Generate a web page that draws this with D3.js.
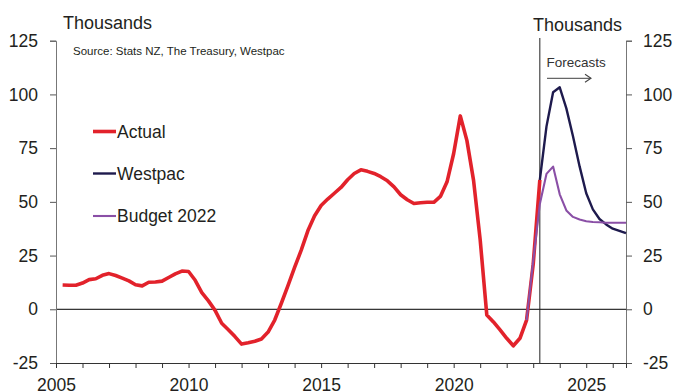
<!DOCTYPE html>
<html>
<head>
<meta charset="utf-8">
<script src="https://cdn.jsdelivr.net/npm/d3@7"></script>
<style>
  html, body { margin: 0; padding: 0; background: #fff; }
  svg { display: block; font-family: "Liberation Sans", Arial, sans-serif; }
</style>
</head>
<body>
<svg id="chart" width="673" height="392"></svg>
<script>
// ---- Data (thousands, quarterly) ----
const actualStart = 2005.25;
const actualValues = [
  11.3, 11.2, 11.2, 12.2, 13.8, 14.2, 15.8, 16.6, 15.7, 14.5, 13.2, 11.4,
  10.9, 12.6, 12.7, 13.1, 14.8, 16.5, 17.8, 17.6, 13.5, 7.8, 3.9, -0.5,
  -6.5, -9.5, -12.7, -16.2, -15.6, -14.9, -13.8, -10.6, -5.0, 2.8, 11.0, 19.5,
  27.5, 36.5, 43.4, 48.3, 51.3, 54.0, 56.7, 60.3, 63.2, 64.9, 64.2, 63.2,
  61.7, 59.8, 57.0, 53.3, 51.0, 49.2, 49.6, 49.8, 49.8, 52.5, 59.3, 72.5,
  90.0, 78.5, 60.0, 32.3, -2.7, -5.9, -9.6, -13.5, -17.0, -13.5, -5.0, 21.0,
  60.2
];
const westpacStart = 2023.25;
const westpacValues = [60.2, 85, 101, 103.3, 93.5, 80.5, 66.5, 54, 46.5, 42, 39.5, 37.5, 36.5, 35.4];
const budgetStart = 2022.75;
const budgetValues = [-5, 22.5, 49, 63, 66.4, 53.5, 46, 43, 41.8, 41, 40.6, 40.5, 40.3, 40.3, 40.3, 40.3];

const yTicks = [-25, 0, 25, 50, 75, 100, 125];
const xLabelYears = [2005, 2010, 2015, 2020, 2025];
const xMinorYears = d3.range(2005, 2027);
const forecastStart = 2023.25;
const seriesNames = ["Actual", "Westpac", "Budget 2022"];
const seriesColors = ["#e2222b", "#1e1a4d", "#8a4fa6"];
const seriesWidths = [3.6, 2.4, 2.1];

// ---- Layout ----
const svg = d3.select("#chart");
const mLeft = 56, mRight = 626, mTop = 40.7, mBottom = 363;
const x = d3.scaleLinear().domain([2005, 2026.5]).range([mLeft, mRight]);
const y = d3.scaleLinear().domain([-25, 125]).range([mBottom, mTop]);
const textColor = "#231f20";
const fontSize = 17.5;
const fmt = d => String(d);

const toPts = (start, vals) => vals.map((v, i) => ({ t: start + 0.25 * i, v }));
const line = d3.line().x(d => x(d.t)).y(d => y(d.v));

// zero line
svg.append("line").attr("x1", mLeft).attr("x2", mRight)
  .attr("y1", y(0)).attr("y2", y(0)).attr("stroke", "#000").attr("stroke-width", 1);

// forecast divider
svg.append("line").attr("x1", x(forecastStart)).attr("x2", x(forecastStart))
  .attr("y1", 38).attr("y2", mBottom).attr("stroke", "#222").attr("stroke-width", 1);

// Left axis
const gL = svg.append("g").attr("transform", `translate(${mLeft},0)`)
  .call(d3.axisLeft(y).tickValues(yTicks).tickSize(6).tickPadding(12).tickFormat(fmt));
gL.select(".domain").attr("stroke", "#777");
gL.selectAll(".tick line").attr("stroke", "#555");
gL.selectAll("text").attr("fill", textColor).style("font-size", fontSize + "px").attr("font-family", null);

// Right axis
const gR = svg.append("g").attr("transform", `translate(${mRight},0)`)
  .call(d3.axisRight(y).tickValues(yTicks).tickSize(6).tickPadding(11).tickFormat(fmt));
gR.select(".domain").attr("stroke", "#777");
gR.selectAll(".tick line").attr("stroke", "#555");
gR.selectAll("text").attr("fill", textColor).style("font-size", fontSize + "px").attr("font-family", null);

// Bottom axis
const gB = svg.append("g").attr("transform", `translate(0,${mBottom})`)
  .call(d3.axisBottom(x).tickValues(xMinorYears).tickSize(5).tickPadding(11)
    .tickFormat(d => xLabelYears.includes(d) ? String(d) : ""));
gB.select(".domain").attr("stroke", "#333");
gB.selectAll(".tick line").attr("stroke", "#333");
gB.selectAll("text").attr("fill", textColor).style("font-size", fontSize + "px").attr("font-family", null);

// Series
svg.append("path").datum(toPts(actualStart, actualValues))
  .attr("d", line).attr("fill", "none").attr("stroke", seriesColors[0])
  .attr("stroke-width", seriesWidths[0]).attr("stroke-linejoin", "round");
svg.append("path").datum(toPts(westpacStart, westpacValues))
  .attr("d", line).attr("fill", "none").attr("stroke", seriesColors[1])
  .attr("stroke-width", seriesWidths[1]).attr("stroke-linejoin", "round");
svg.append("path").datum(toPts(budgetStart, budgetValues))
  .attr("d", line).attr("fill", "none").attr("stroke", seriesColors[2])
  .attr("stroke-width", seriesWidths[2]).attr("stroke-linejoin", "round");

// Titles
svg.append("text").attr("x", 63).attr("y", 28.5).attr("fill", textColor)
  .style("font-size", "18px").text("Thousands");
svg.append("text").attr("x", 622).attr("y", 30.5).attr("text-anchor", "end").attr("fill", textColor)
  .style("font-size", "18px").text("Thousands");
svg.append("text").attr("x", 73).attr("y", 55).attr("fill", textColor)
  .style("font-size", "11.5px").text("Source: Stats NZ, The Treasury, Westpac");

// Forecasts label + arrow
svg.append("text").attr("x", 546.5).attr("y", 66.5).attr("fill", "#333")
  .style("font-size", "13.5px").text("Forecasts");
const ay = 78.3;
svg.append("line").attr("x1", 547).attr("x2", 591).attr("y1", ay).attr("y2", ay)
  .attr("stroke", "#666").attr("stroke-width", 1.3);
svg.append("path").attr("d", `M585,${ay - 4} L591,${ay} L585,${ay + 4}`)
  .attr("fill", "none").attr("stroke", "#444").attr("stroke-width", 1.1);

// Legend
const legendY = [131.5, 173.5, 216];
seriesNames.forEach((name, i) => {
  svg.append("line").attr("x1", 93).attr("x2", 116).attr("y1", legendY[i]).attr("y2", legendY[i])
    .attr("stroke", seriesColors[i]).attr("stroke-width", seriesWidths[i]);
  svg.append("text").attr("x", 117).attr("y", legendY[i]).attr("dy", "0.36em")
    .attr("fill", textColor).style("font-size", fontSize + "px").text(name);
});
</script>
</body>
</html>
